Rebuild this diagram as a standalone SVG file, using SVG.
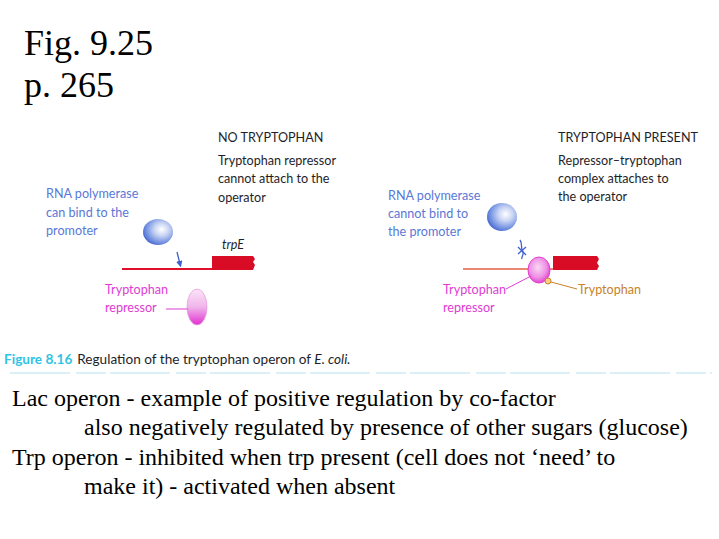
<svg xmlns="http://www.w3.org/2000/svg" width="719" height="539" viewBox="0 0 719 539">
<style>
.title{font-family:"Liberation Serif","Times New Roman",serif;font-size:36px;fill:#000}
.body{font-family:"Liberation Serif","Times New Roman",serif;font-size:24px;fill:#000}
.lab{font-family:Lato,"Liberation Sans",sans-serif;font-size:12.6px}
.dark{fill:#1e1e28}
.blue{fill:#5a78d6}
.pink{fill:#e03cd2}
.orange{fill:#c8822a}
.cap{font-family:Lato,"Liberation Sans",sans-serif;font-size:13.6px}
</style>
<defs>
<radialGradient id="gBlue" cx="0.62" cy="0.4" r="0.7">
<stop offset="0" stop-color="#ffffff"/>
<stop offset="0.35" stop-color="#c8d4f4"/>
<stop offset="0.75" stop-color="#6f8ee0"/>
<stop offset="1" stop-color="#3b5cc8"/>
</radialGradient>
<linearGradient id="gPink" x1="0" y1="0" x2="0" y2="1">
<stop offset="0" stop-color="#fbe6f8"/>
<stop offset="0.5" stop-color="#f0b4ea"/>
<stop offset="1" stop-color="#e030d0"/>
</linearGradient>
<radialGradient id="gPink2" cx="0.45" cy="0.4" r="0.65">
<stop offset="0" stop-color="#f8d8f4"/>
<stop offset="0.6" stop-color="#ee90e4"/>
<stop offset="1" stop-color="#e030d0"/>
</radialGradient>
<marker id="arr" viewBox="0 0 10 10" refX="8" refY="5" markerWidth="5" markerHeight="5" orient="auto">
<path d="M0,0 L10,5 L0,10 z" fill="#4060d0"/>
</marker>
</defs>
<rect width="719" height="539" fill="#fff"/>

<g id="title">
<text class="title" x="24" y="55">Fig. 9.25</text>
<text class="title" x="24" y="97">p. 265</text>
</g>

<g id="left-panel">
<text class="lab dark" x="218" y="142">NO TRYPTOPHAN</text>
<text class="lab dark" x="218" y="165">Tryptophan repressor</text>
<text class="lab dark" x="218" y="183">cannot attach to the</text>
<text class="lab dark" x="218" y="202">operator</text>
<text class="lab blue" x="46" y="198">RNA polymerase</text>
<text class="lab blue" x="46" y="217">can bind to the</text>
<text class="lab blue" x="46" y="235">promoter</text>
<text class="lab dark" x="222" y="249" font-style="italic">trpE</text>
<line x1="122" y1="269" x2="213" y2="269" stroke="#e0102a" stroke-width="2"/>
<path d="M212,256 L253,256 L255,259 L253,262 L255,265 L253,270 L212,270 z" fill="#d80c24"/>
<ellipse id="polymerase-left" cx="158" cy="232" rx="15" ry="13" fill="url(#gBlue)"/>
<line x1="177" y1="252" x2="180.5" y2="266" stroke="#4060d0" stroke-width="1.3" marker-end="url(#arr)"/>
<ellipse id="repressor-left" cx="197" cy="307" rx="10" ry="18" fill="url(#gPink)" stroke="#e8a0e0" stroke-width="0.8"/>
<text class="lab pink" x="105" y="294">Tryptophan</text>
<text class="lab pink" x="105" y="312">repressor</text>
<line x1="166" y1="309" x2="188" y2="309" stroke="#e03cd2" stroke-width="1"/>
</g>

<g id="right-panel">
<text class="lab dark" x="558" y="142">TRYPTOPHAN PRESENT</text>
<text class="lab dark" x="558" y="165">Repressor–tryptophan</text>
<text class="lab dark" x="558" y="183">complex attaches to</text>
<text class="lab dark" x="558" y="201">the operator</text>
<text class="lab blue" x="388" y="200">RNA polymerase</text>
<text class="lab blue" x="388" y="218">cannot bind to</text>
<text class="lab blue" x="388" y="236">the promoter</text>
<line x1="463" y1="269" x2="555" y2="269" stroke="#e06040" stroke-width="1.6"/>
<path d="M553,256 L597,256 L599,259 L597,263 L599,266 L597,270 L553,270 z" fill="#d80c24"/>
<ellipse id="polymerase-right" cx="502" cy="217" rx="15" ry="14" fill="url(#gBlue)"/>
<path d="M520,240 C523,244 520,248 523,252 C524,255 521,257 522,259" fill="none" stroke="#4060d0" stroke-width="1.3"/>
<path d="M518,254 L526,247 M518,247 L526,255" fill="none" stroke="#4060d0" stroke-width="1.3"/>
<ellipse id="repressor-right" cx="539" cy="270" rx="11" ry="13" fill="url(#gPink2)" stroke="#e040d0" stroke-width="1"/>
<circle id="tryptophan" cx="548" cy="281" r="3" fill="#f6d080" stroke="#c8822a" stroke-width="1"/>
<text class="lab pink" x="443" y="294">Tryptophan</text>
<text class="lab pink" x="443" y="312">repressor</text>
<line x1="506" y1="289" x2="531" y2="276" stroke="#e03cd2" stroke-width="1"/>
<text class="lab orange" x="578" y="294">Tryptophan</text>
<line x1="551" y1="282" x2="577" y2="289" stroke="#c8822a" stroke-width="1"/>
</g>

<g id="caption">
<text class="cap" x="4" y="364"><tspan fill="#2ec4e4" font-weight="bold">Figure 8.16</tspan><tspan fill="#1e1e28" dx="5">Regulation of the tryptophan operon of </tspan><tspan fill="#1e1e28" font-style="italic">E. coli.</tspan></text>
<line x1="10" y1="373" x2="712" y2="373" stroke="#b8e0f0" stroke-width="1" stroke-dasharray="60,6,30,4"/>
</g>

<g id="notes">
<text class="body" x="12" y="406">Lac operon - example of positive regulation by co-factor</text>
<text class="body" x="84" y="435">also negatively regulated by presence of other sugars (glucose)</text>
<text class="body" x="12" y="465">Trp operon - inhibited when trp present (cell does not ‘need’ to</text>
<text class="body" x="84" y="494">make it) - activated when absent</text>
</g>
</svg>
